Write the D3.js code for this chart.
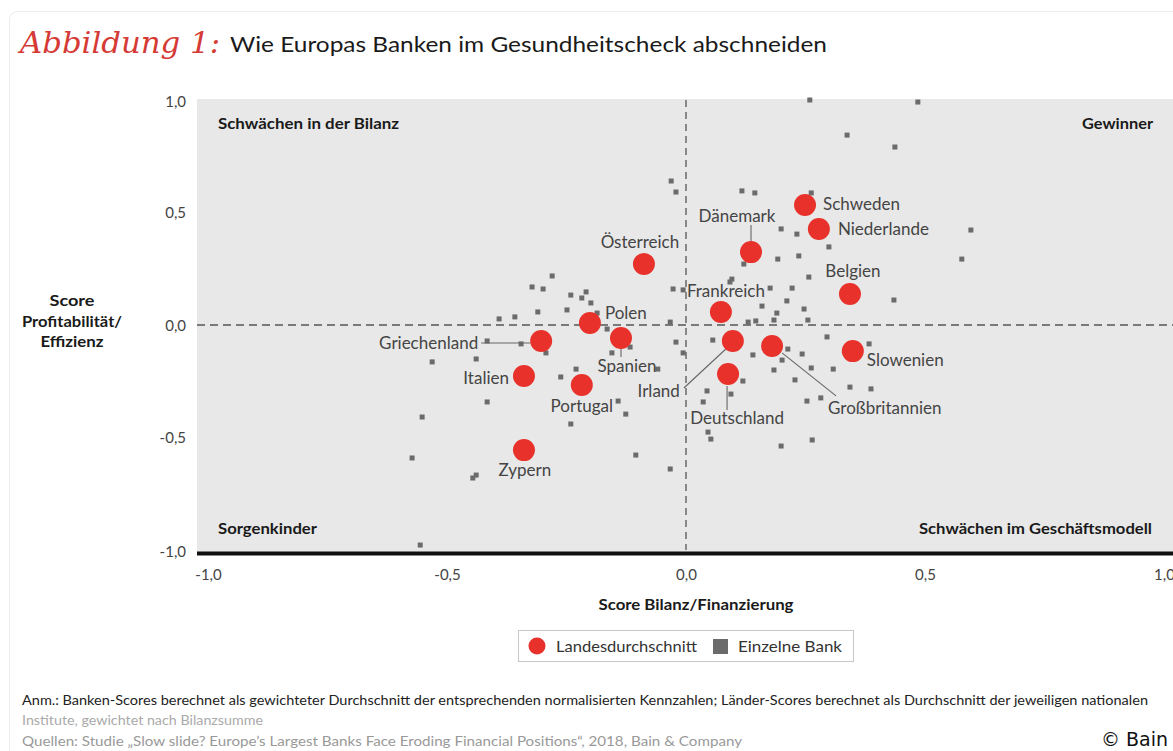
<!DOCTYPE html>
<html>
<head>
<meta charset="utf-8">
<script src="https://cdn.jsdelivr.net/npm/d3@7"></script>
<style>
  body { margin: 0; background: #fff; }
  svg { display: block; }
</style>
</head>
<body>
<div id="chart"></div>
<script>
// Länder-Scores (Landesdurchschnitt)
const countries = ["Schweden", "Niederlande", "Dänemark", "Belgien", "Österreich", "Frankreich",
  "Polen", "Spanien", "Griechenland", "Irland", "Großbritannien", "Slowenien",
  "Italien", "Portugal", "Deutschland", "Zypern"];
const countryX = [0.249, 0.278, 0.136, 0.343, -0.088, 0.073, -0.201, -0.136, -0.303, 0.098, 0.180, 0.349,
  -0.339, -0.218, 0.088, -0.339];
const countryY = [0.533, 0.427, 0.324, 0.138, 0.271, 0.058, 0.009, -0.058, -0.071, -0.071, -0.093, -0.116,
  -0.227, -0.267, -0.218, -0.556];

// Einzelne Banken
const bankX = [-0.031, -0.021, -0.280, -0.322, -0.299, -0.241, -0.218, -0.209, -0.199, -0.310,
  -0.249, -0.391, -0.358, -0.186, -0.165, -0.416, -0.345, -0.293, -0.531, -0.439,
  -0.117, -0.155, -0.230, -0.262, -0.059, -0.416, -0.142, -0.126, -0.241, -0.552,
  -0.027, -0.033, -0.021, -0.006, -0.573, -0.439, -0.446, -0.105, -0.033, -0.556,
  0.259, 0.485, 0.337, 0.437, 0.117, 0.144, 0.262, 0.199, 0.232, 0.299,
  0.596, 0.577, 0.121, 0.192, 0.236, 0.257, 0.096, 0.092, -0.006, 0.176,
  0.222, 0.211, 0.435, 0.159, 0.190, 0.247, 0.130, 0.146, 0.184, 0.255,
  0.295, 0.056, 0.140, 0.213, 0.243, 0.201, 0.184, 0.262, 0.308, 0.383,
  0.119, 0.228, 0.044, 0.094, 0.036, 0.253, 0.282, 0.343, 0.387, 0.046,
  0.052, 0.264, 0.199];
const bankY = [0.640, 0.591, 0.218, 0.169, 0.160, 0.133, 0.120, 0.147, 0.098, 0.058,
  0.067, 0.027, 0.036, 0.053, -0.018, -0.071, -0.084, -0.124, -0.164, -0.151,
  -0.098, -0.124, -0.196, -0.231, -0.196, -0.342, -0.338, -0.396, -0.440, -0.409,
  0.160, 0.013, -0.076, -0.124, -0.591, -0.667, -0.680, -0.578, -0.640, -0.978,
  1.000, 0.991, 0.844, 0.791, 0.596, 0.587, 0.587, 0.427, 0.404, 0.347,
  0.422, 0.293, 0.271, 0.293, 0.307, 0.213, 0.204, 0.191, 0.156, 0.164,
  0.164, 0.107, 0.111, 0.084, 0.053, 0.071, 0.013, 0.018, 0.022, 0.022,
  -0.053, -0.067, -0.133, -0.107, -0.129, -0.156, -0.200, -0.191, -0.196, -0.084,
  -0.249, -0.244, -0.293, -0.307, -0.342, -0.338, -0.324, -0.276, -0.284, -0.476,
  -0.507, -0.511, -0.538];

const ticks = [-1, -0.5, 0, 0.5, 1];

// Beschriftung der Länder: Versatz in Pixeln zum Kreismittelpunkt, optional Hinweislinie
const labelLayout = {
  "Schweden":       { dx: 18, dy: -1, anchor: "start" },
  "Niederlande":    { dx: 19, dy: 0, anchor: "start" },
  "Dänemark":       { dx: -14, dy: -36, anchor: "middle", line: [0, -11, 0, -27] },
  "Belgien":        { dx: 3, dy: -23, anchor: "middle" },
  "Österreich":     { dx: -4, dy: -22, anchor: "middle" },
  "Frankreich":     { dx: 5, dy: -21, anchor: "middle" },
  "Polen":          { dx: 15, dy: -10, anchor: "start" },
  "Spanien":        { dx: 6, dy: 28, anchor: "middle", line: [0, 11, 0, 19] },
  "Griechenland":   { dx: -63, dy: 2, anchor: "end", line: [-11, 2, -60, 2] },
  "Irland":         { dx: -53, dy: 50, anchor: "end", line: [-7, 8, -49, 47] },
  "Großbritannien": { dx: 56, dy: 62, anchor: "start", line: [10, 7, 64, 50] },
  "Slowenien":      { dx: 14, dy: 9, anchor: "start" },
  "Italien":        { dx: -15, dy: 2, anchor: "end" },
  "Portugal":       { dx: 0, dy: 21, anchor: "middle" },
  "Deutschland":    { dx: 9, dy: 44, anchor: "middle", line: [-1, 12, -1, 36] },
  "Zypern":         { dx: 1, dy: 20, anchor: "middle" }
};

const W = 1173, H = 751;
const font = "Lato, 'Open Sans', sans-serif";
const red = "#e8312a", grey = "#6b6b6b";

const svg = d3.select("#chart").append("svg")
  .attr("width", W)
  .attr("height", H)
  .style("font-family", font);

// Karte
svg.append("rect")
  .attr("x", 9.5).attr("y", 11.5)
  .attr("width", 1200).attr("height", 800)
  .attr("rx", 8)
  .style("fill", "none")
  .style("stroke", "#ececec");

// Titel
svg.append("text")
  .attr("x", 20).attr("y", 53)
  .attr("textLength", 200)
  .attr("lengthAdjust", "spacingAndGlyphs")
  .style("font-family", "'DejaVu Serif', serif")
  .style("font-style", "italic")
  .style("font-size", "29px")
  .style("fill", "#d53a35")
  .text("Abbildung 1:");

svg.append("text")
  .attr("x", 230).attr("y", 52)
  .attr("textLength", 597)
  .attr("lengthAdjust", "spacingAndGlyphs")
  .style("font-size", "22px")
  .style("fill", "#1a1a1a")
  .text("Wie Europas Banken im Gesundheitscheck abschneiden");

const x = d3.scaleLinear().domain([-1, 1]).range([208, 1164]);
const y = d3.scaleLinear().domain([-1, 1]).range([550, 100]);
const fmt = (d) => d.toFixed(1).replace(".", ",");

// Hintergrund
svg.append("rect")
  .attr("x", 197).attr("y", 99)
  .attr("width", W - 197).attr("height", 453)
  .style("fill", "#e8e8e8");

// Achsen-Nulllinien (gestrichelt)
svg.append("line")
  .attr("x1", 197).attr("x2", W)
  .attr("y1", y(0)).attr("y2", y(0))
  .style("stroke", "#555")
  .style("stroke-width", 1.3)
  .style("stroke-dasharray", "8,5");

svg.append("line")
  .attr("x1", x(0)).attr("x2", x(0))
  .attr("y1", 100).attr("y2", 550)
  .style("stroke", "#555")
  .style("stroke-width", 1.3)
  .style("stroke-dasharray", "7,5");

svg.append("line")
  .attr("x1", 197).attr("x2", W)
  .attr("y1", 553.5).attr("y2", 553.5)
  .style("stroke", "#111")
  .style("stroke-width", 4);

// Quadranten
const quad = [
  ["Schwächen in der Bilanz", 218, 124, "start", 181],
  ["Gewinner", 1153, 124, "end", 71],
  ["Sorgenkinder", 218, 529, "start", 99],
  ["Schwächen im Geschäftsmodell", 1152, 529, "end", 233]
];
svg.selectAll(".quad")
  .data(quad)
  .enter()
  .append("text")
  .attr("x", (d) => d[1])
  .attr("y", (d) => d[2])
  .attr("dy", "0.35em")
  .attr("text-anchor", (d) => d[3])
  .attr("textLength", (d) => d[4])
  .attr("lengthAdjust", "spacingAndGlyphs")
  .style("font-weight", "bold")
  .style("font-size", "15px")
  .style("fill", "#1a1a1a")
  .text((d) => d[0]);

// axe x
const gx = svg.append("g")
  .attr("transform", "translate(0,565)")
  .call(d3.axisBottom(x).tickValues(ticks).tickFormat(fmt).tickSize(0).tickPadding(4));
gx.select(".domain").remove();
gx.selectAll("text")
  .style("font-family", font)
  .style("font-size", "15px")
  .style("fill", "#444");

// axe y
const gy = svg.append("g")
  .attr("transform", "translate(186,0)")
  .call(d3.axisLeft(y).tickValues(ticks).tickFormat(fmt).tickSize(0).tickPadding(0));
gy.select(".domain").remove();
gy.selectAll("text")
  .attr("dy", "0.35em")
  .style("font-family", font)
  .style("font-size", "15px")
  .style("fill", "#444");
gy.selectAll(".tick").filter((d) => d === 1).attr("transform", "translate(0," + (y(1) + 2) + ")");
gy.selectAll(".tick").filter((d) => d === -1).attr("transform", "translate(0," + (y(-1) + 2) + ")");

// Achsentitel
svg.append("text")
  .attr("x", 696).attr("y", 605)
  .attr("dy", "0.35em")
  .attr("text-anchor", "middle")
  .attr("textLength", 195)
  .attr("lengthAdjust", "spacingAndGlyphs")
  .style("font-weight", "bold")
  .style("font-size", "15px")
  .style("fill", "#1a1a1a")
  .text("Score Bilanz/Finanzierung");

const ytitle = [["Score", 301, 45], ["Profitabilität/", 322, 100], ["Effizienz", 342, 63]];
svg.selectAll(".ytitle")
  .data(ytitle)
  .enter()
  .append("text")
  .attr("x", 72)
  .attr("y", (d) => d[1])
  .attr("dy", "0.35em")
  .attr("text-anchor", "middle")
  .attr("textLength", (d) => d[2])
  .attr("lengthAdjust", "spacingAndGlyphs")
  .style("font-weight", "bold")
  .style("font-size", "15px")
  .style("fill", "#1a1a1a")
  .text((d) => d[0]);

// Banken
const banks = bankX.map((v, i) => ({ x: v, y: bankY[i] }));
svg.append("g")
  .selectAll("rect")
  .data(banks)
  .enter()
  .append("rect")
  .attr("x", (d) => x(d.x) - 2.5)
  .attr("y", (d) => y(d.y) - 2.5)
  .attr("width", 5)
  .attr("height", 5)
  .style("fill", grey);

// Länder
const land = countries.map((n, i) => ({ name: n, x: countryX[i], y: countryY[i], l: labelLayout[n] }));

svg.append("g")
  .selectAll("line")
  .data(land.filter((d) => d.l.line))
  .enter()
  .append("line")
  .attr("x1", (d) => x(d.x) + d.l.line[0])
  .attr("y1", (d) => y(d.y) + d.l.line[1])
  .attr("x2", (d) => x(d.x) + d.l.line[2])
  .attr("y2", (d) => y(d.y) + d.l.line[3])
  .style("stroke", "#666")
  .style("stroke-width", 1.1);

svg.append("g")
  .selectAll("circle")
  .data(land)
  .enter()
  .append("circle")
  .attr("cx", (d) => x(d.x))
  .attr("cy", (d) => y(d.y))
  .attr("r", 11)
  .style("fill", red);

svg.append("g")
  .selectAll("text")
  .data(land)
  .enter()
  .append("text")
  .attr("x", (d) => x(d.x) + d.l.dx)
  .attr("y", (d) => y(d.y) + d.l.dy)
  .attr("dy", "0.35em")
  .attr("text-anchor", (d) => d.l.anchor)
  .style("font-size", "17px")
  .style("fill", "#444")
  .text((d) => d.name);

// Legende
const leg = svg.append("g");
leg.append("rect")
  .attr("x", 518.5).attr("y", 630.5)
  .attr("width", 335).attr("height", 31)
  .style("fill", "#fff")
  .style("stroke", "#c8c8c8");
leg.append("circle")
  .attr("cx", 537).attr("cy", 646).attr("r", 8.5)
  .style("fill", red);
leg.append("text")
  .attr("x", 556).attr("y", 646).attr("dy", "0.35em")
  .attr("textLength", 141).attr("lengthAdjust", "spacingAndGlyphs")
  .style("font-size", "16px").style("fill", "#333")
  .text("Landesdurchschnitt");
leg.append("rect")
  .attr("x", 713).attr("y", 639).attr("width", 15).attr("height", 15)
  .style("fill", grey);
leg.append("text")
  .attr("x", 738).attr("y", 646).attr("dy", "0.35em")
  .attr("textLength", 104).attr("lengthAdjust", "spacingAndGlyphs")
  .style("font-size", "16px").style("fill", "#333")
  .text("Einzelne Bank");

// Fussnoten
const notes = [
  ["Anm.: Banken-Scores berechnet als gewichteter Durchschnitt der entsprechenden normalisierten Kennzahlen; Länder-Scores berechnet als Durchschnitt der jeweiligen nationalen", 700, 1126, "#222"],
  ["Institute, gewichtet nach Bilanzsumme", 720, 241, "#aaa"],
  ["Quellen: Studie „Slow slide? Europe’s Largest Banks Face Eroding Financial Positions“, 2018, Bain & Company", 741, 720, "#999"]
];
svg.selectAll(".note")
  .data(notes)
  .enter()
  .append("text")
  .attr("x", 22)
  .attr("y", (d) => d[1])
  .attr("dy", "0.35em")
  .attr("textLength", (d) => d[2])
  .attr("lengthAdjust", "spacingAndGlyphs")
  .style("font-size", "13px")
  .style("fill", (d) => d[3])
  .text((d) => d[0]);

svg.append("text")
  .attr("x", 1168).attr("y", 739)
  .attr("dy", "0.35em")
  .attr("text-anchor", "end")
  .style("font-family", "'DejaVu Sans', sans-serif")
  .style("font-size", "19px")
  .style("fill", "#111")
  .text("© Bain");
</script>
</body>
</html>
